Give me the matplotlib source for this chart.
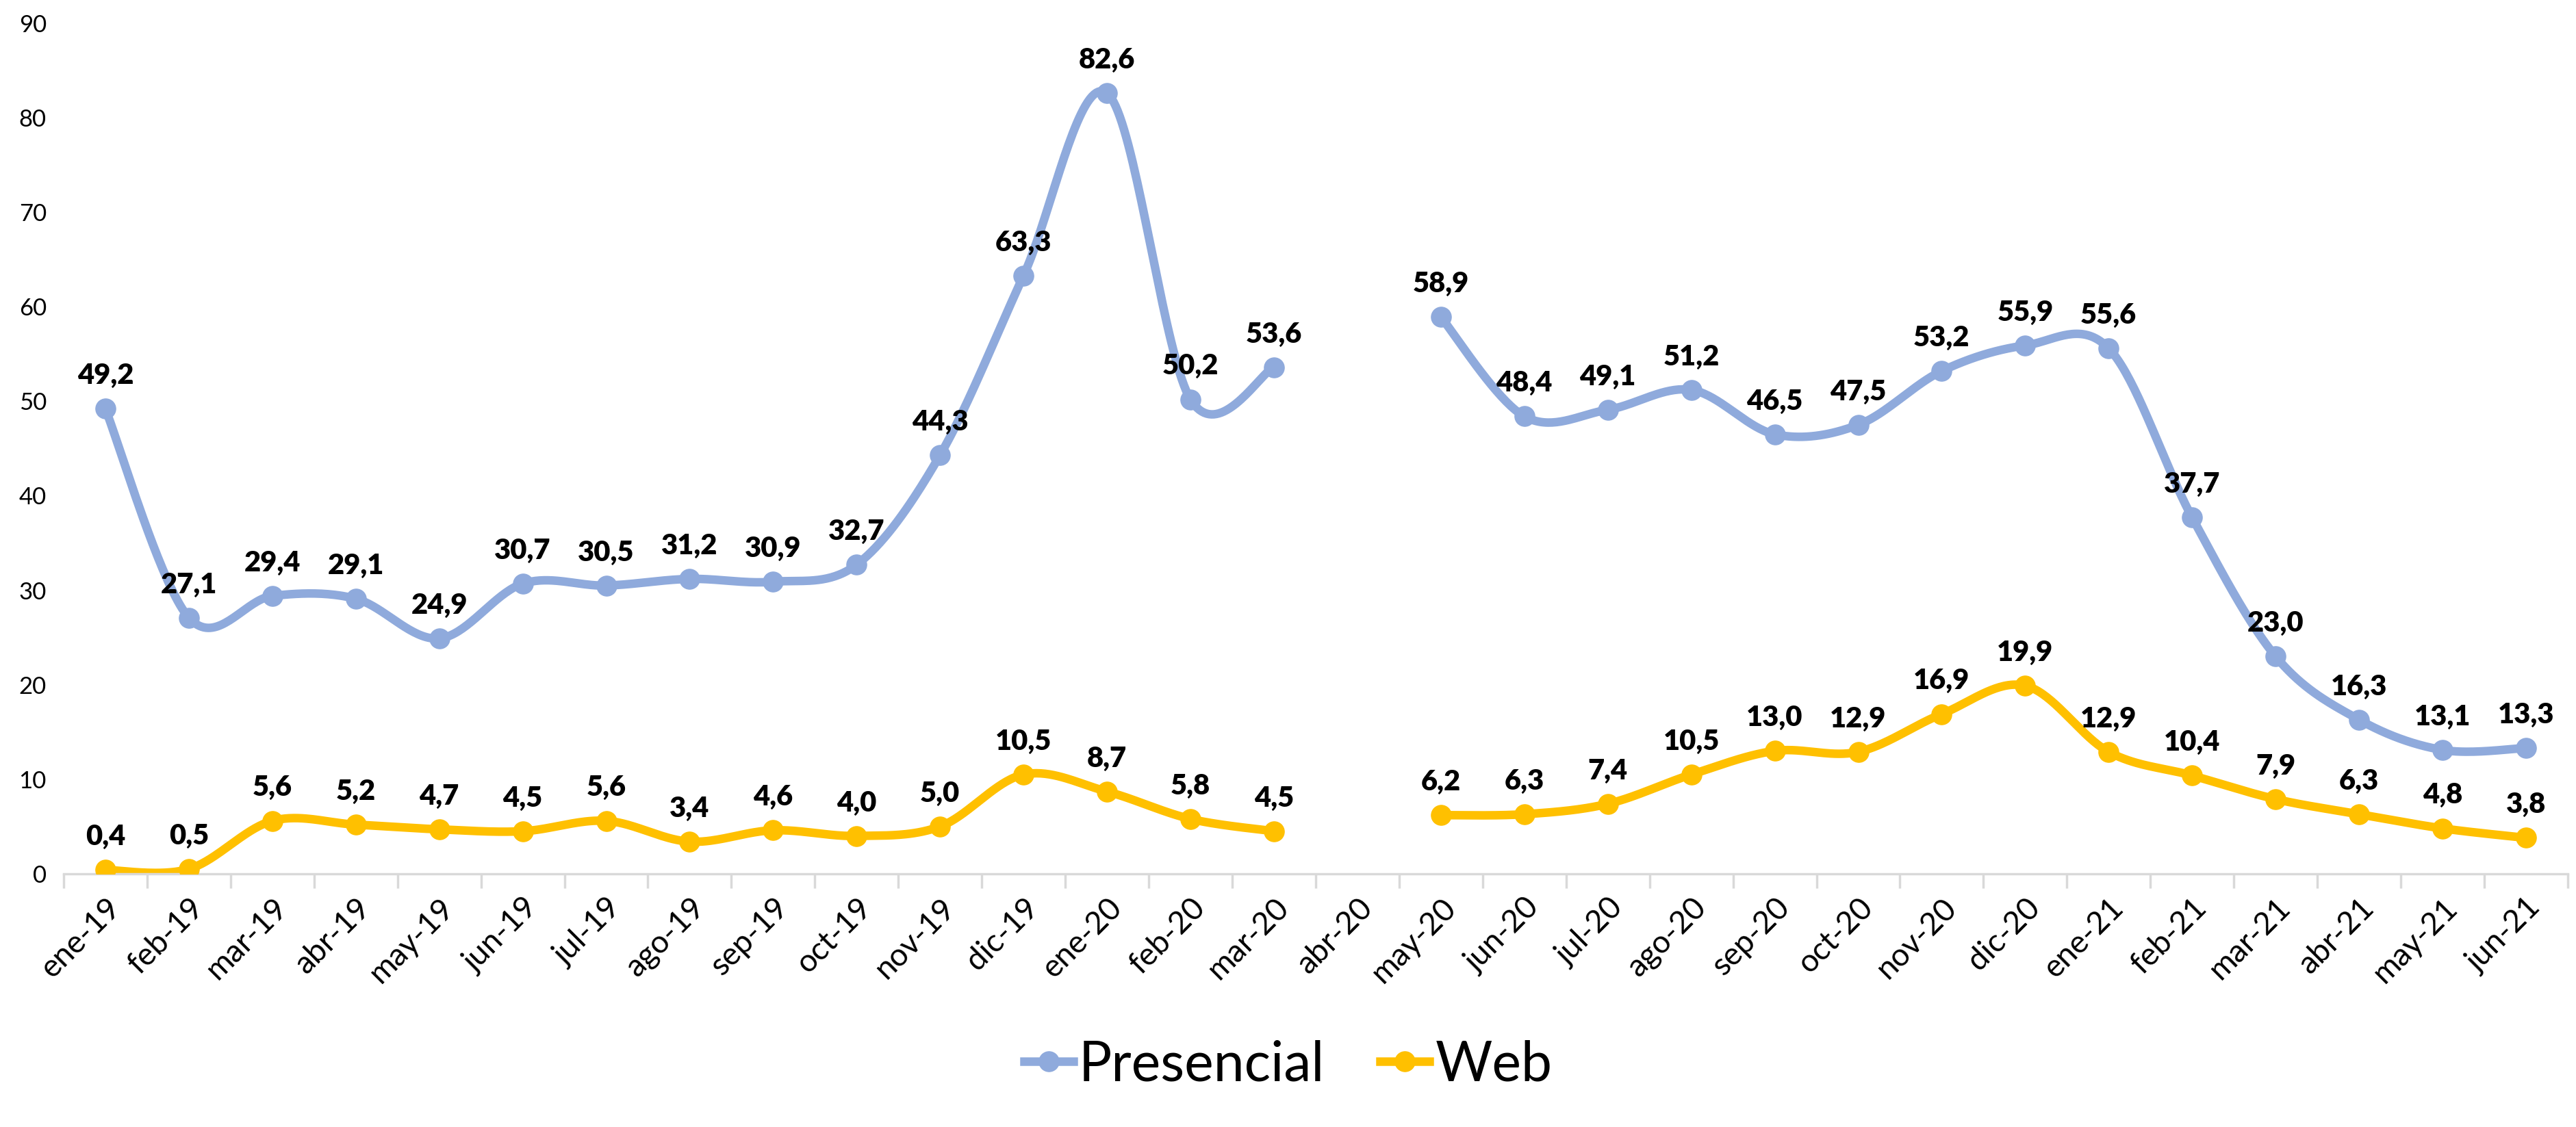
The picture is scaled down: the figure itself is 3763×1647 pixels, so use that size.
import numpy as np
import matplotlib
matplotlib.use("Agg")
import matplotlib.pyplot as plt
from matplotlib.lines import Line2D

plt.rcParams['font.family'] = ['Lato', 'DejaVu Sans']

months = ["ene-19", "feb-19", "mar-19", "abr-19", "may-19", "jun-19", "jul-19", "ago-19",
          "sep-19", "oct-19", "nov-19", "dic-19", "ene-20", "feb-20", "mar-20", "abr-20",
          "may-20", "jun-20", "jul-20", "ago-20", "sep-20", "oct-20", "nov-20", "dic-20",
          "ene-21", "feb-21", "mar-21", "abr-21", "may-21", "jun-21"]
presencial = [49.2, 27.1, 29.4, 29.1, 24.9, 30.7, 30.5, 31.2, 30.9, 32.7, 44.3, 63.3, 82.6, 50.2, 53.6,
              np.nan, 58.9, 48.4, 49.1, 51.2, 46.5, 47.5, 53.2, 55.9, 55.6, 37.7, 23.0, 16.3, 13.1, 13.3]
web = [0.4, 0.5, 5.6, 5.2, 4.7, 4.5, 5.6, 3.4, 4.6, 4.0, 5.0, 10.5, 8.7, 5.8, 4.5,
       np.nan, 6.2, 6.3, 7.4, 10.5, 13.0, 12.9, 16.9, 19.9, 12.9, 10.4, 7.9, 6.3, 4.8, 3.8]
series = [("Presencial", presencial, "#8FAADC"), ("Web", web, "#FFC000")]


def smooth_segment(xs, ys, n=40):
    """Excel-style smoothing: cubic Bezier with Catmull-Rom control points."""
    xs = np.asarray(xs, float)
    ys = np.asarray(ys, float)
    if len(xs) < 2:
        return xs, ys
    px = np.concatenate([[xs[0]], xs, [xs[-1]]])
    py = np.concatenate([[ys[0]], ys, [ys[-1]]])
    outx, outy = [], []
    t = np.linspace(0, 1, n)
    for i in range(len(xs) - 1):
        p0 = np.array([px[i + 1], py[i + 1]])
        p3 = np.array([px[i + 2], py[i + 2]])
        c1 = p0 + (np.array([px[i + 2], py[i + 2]]) - np.array([px[i], py[i]])) / 6.0
        c2 = p3 - (np.array([px[i + 3], py[i + 3]]) - np.array([px[i + 1], py[i + 1]])) / 6.0
        b = ((1 - t) ** 3)[:, None] * p0 + (3 * (1 - t) ** 2 * t)[:, None] * c1 + \
            (3 * (1 - t) * t ** 2)[:, None] * c2 + (t ** 3)[:, None] * p3
        outx.extend(b[:, 0])
        outy.extend(b[:, 1])
    return np.array(outx), np.array(outy)


fig = plt.figure(figsize=(37.63, 16.47), dpi=100)
ax = fig.add_axes([0.0247, 0.2247, 0.9721, 0.7547])

x = np.arange(len(months))
for name, vals, col in series:
    v = np.asarray(vals, float)
    valid = ~np.isnan(v)
    segs = []
    cur = []
    for i in range(len(v)):
        if valid[i]:
            cur.append(i)
        else:
            if cur:
                segs.append(cur)
            cur = []
    if cur:
        segs.append(cur)
    for s in segs:
        sx, sy = smooth_segment(x[s], v[s])
        ax.plot(sx, sy, color=col, lw=9, solid_capstyle='round', zorder=2)
    ax.plot(x[valid], v[valid], 'o', color=col, ms=21, zorder=3)
    for i in np.where(valid)[0]:
        ax.annotate(f"{v[i]:.1f}".replace('.', ','), (x[i], v[i]), xytext=(0, 21),
                    textcoords='offset points', ha='center', va='bottom',
                    fontsize=30, fontweight='heavy', color='black', zorder=4)

ax.set_xlim(-0.5, len(months) - 0.5)
ax.set_ylim(0, 90)
ax.set_yticks(np.arange(0, 91, 10))
ax.tick_params(axis='y', length=0, labelsize=25, pad=18)
ax.set_xticks(x)
ax.set_xticklabels(months, rotation=45, ha='right', rotation_mode='anchor', fontsize=33)
ax.tick_params(axis='x', length=0, pad=20)
ax.set_xticks(np.arange(-0.5, len(months), 1), minor=True)
ax.tick_params(axis='x', which='minor', length=15, width=2.5, color='#D9D9D9')
for sp in ['top', 'right', 'left']:
    ax.spines[sp].set_visible(False)
ax.spines['bottom'].set_color('#D9D9D9')
ax.spines['bottom'].set_linewidth(2.5)

handles = [Line2D([0], [0], color=c, lw=9, marker='o', ms=21) for _, _, c in series]
fig.legend(handles, [n for n, _, _ in series], loc='center', bbox_to_anchor=(0.5, 0.055),
           ncol=2, frameon=False, fontsize=58, handlelength=0.9, handletextpad=0.1,
           columnspacing=1.0)

fig.savefig("out.png", dpi=100)
